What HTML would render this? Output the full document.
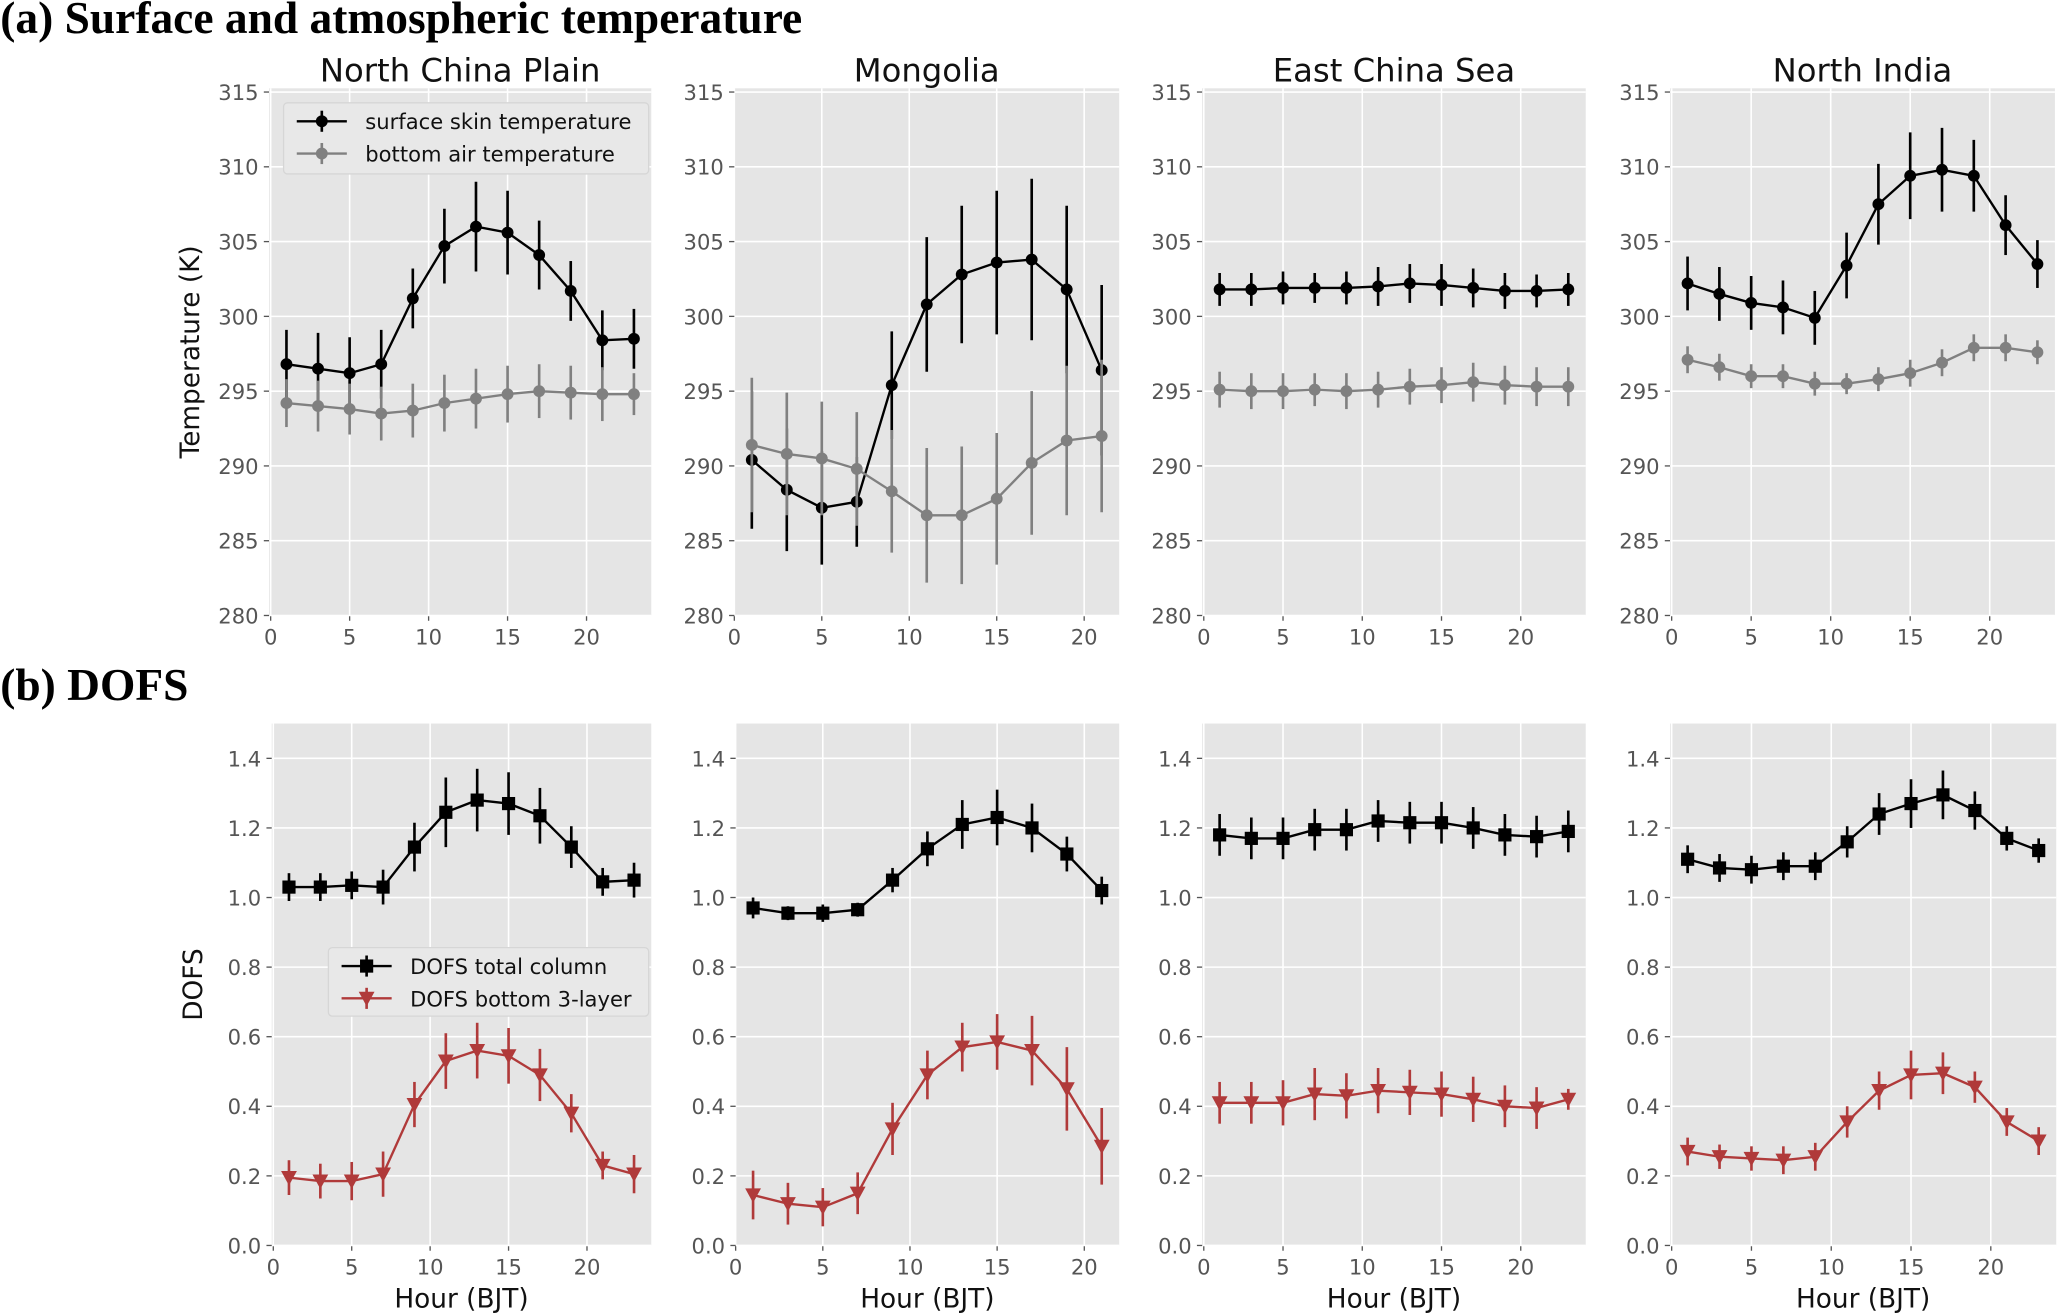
<!DOCTYPE html>
<html><head><meta charset="utf-8">
<style>
html,body{margin:0;padding:0;background:#fff;}
svg{display:block;}
text{font-family:"DejaVu Sans","Liberation Sans",sans-serif;}
</style></head>
<body>
<svg id="fig" width="2067" height="1314" viewBox="0 0 1568 997" xmlns="http://www.w3.org/2000/svg">
<text x="0" y="25" style="font-family:'Liberation Serif',serif;font-weight:bold;font-size:34.5px;">(a) Surface and atmospheric temperature</text>
<text x="0" y="531" style="font-family:'Liberation Serif',serif;font-weight:bold;font-size:34.5px;">(b) DOFS</text>
</svg>
<script>
const regions = ["North China Plain","Mongolia","East China Sea","North India"];
const hoursFull = [1,3,5,7,9,11,13,15,17,19,21,23];
const hoursMon = [1,3,5,7,9,11,13,15,17,19,21];
const tempTicks = [280,285,290,295,300,305,310,315];
const dofsTicks = [0.0,0.2,0.4,0.6,0.8,1.0,1.2,1.4];
const dofsTickLabels = ["0.0","0.2","0.4","0.6","0.8","1.0","1.2","1.4"];
const hourTicks = [0,5,10,15,20];

const skinNCP = [296.8,296.5,296.2,296.8,301.2,304.7,306.0,305.6,304.1,301.7,298.4,298.5];
const skinNCPErr = [2.3,2.4,2.4,2.3,2.0,2.5,3.0,2.8,2.3,2.0,2.0,2.0];
const airNCP = [294.2,294.0,293.8,293.5,293.7,294.2,294.5,294.8,295.0,294.9,294.8,294.8];
const airNCPErr = [1.6,1.7,1.7,1.8,1.8,1.9,2.0,1.9,1.8,1.8,1.8,1.4];
const skinMON = [290.4,288.4,287.2,287.6,295.4,300.8,302.8,303.6,303.8,301.8,296.4];
const skinMONErr = [4.6,4.1,3.8,3.0,3.6,4.5,4.6,4.8,5.4,5.6,5.7];
const airMON = [291.4,290.8,290.5,289.8,288.3,286.7,286.7,287.8,290.2,291.7,292.0];
const airMONErr = [4.5,4.1,3.8,3.8,4.1,4.5,4.6,4.4,4.8,5.0,5.1];
const skinECS = [301.8,301.8,301.9,301.9,301.9,302.0,302.2,302.1,301.9,301.7,301.7,301.8];
const skinECSErr = [1.1,1.1,1.1,1.0,1.1,1.3,1.3,1.4,1.3,1.2,1.1,1.1];
const airECS = [295.1,295.0,295.0,295.1,295.0,295.1,295.3,295.4,295.6,295.4,295.3,295.3];
const airECSErr = [1.2,1.2,1.2,1.1,1.2,1.2,1.2,1.2,1.3,1.3,1.3,1.3];
const skinNI = [302.2,301.5,300.9,300.6,299.9,303.4,307.5,309.4,309.8,309.4,306.1,303.5];
const skinNIErr = [1.8,1.8,1.8,1.8,1.8,2.2,2.7,2.9,2.8,2.4,2.0,1.6];
const airNI = [297.1,296.6,296.0,296.0,295.5,295.5,295.8,296.2,296.9,297.9,297.9,297.6];
const airNIErr = [0.9,0.9,0.8,0.8,0.8,0.7,0.8,0.9,0.9,0.9,0.9,0.8];

const totNCP = [1.03,1.03,1.035,1.03,1.145,1.245,1.28,1.27,1.235,1.145,1.045,1.05];
const totNCPErr = [0.04,0.04,0.04,0.05,0.07,0.1,0.09,0.09,0.08,0.06,0.04,0.05];
const botNCP = [0.195,0.185,0.185,0.205,0.405,0.53,0.56,0.545,0.49,0.38,0.23,0.205];
const botNCPErr = [0.05,0.05,0.055,0.065,0.065,0.08,0.08,0.08,0.075,0.055,0.04,0.055];
const totMON = [0.97,0.955,0.955,0.965,1.05,1.14,1.21,1.23,1.2,1.125,1.02];
const totMONErr = [0.03,0.02,0.025,0.02,0.035,0.05,0.07,0.08,0.07,0.05,0.04];
const botMON = [0.145,0.12,0.11,0.15,0.335,0.49,0.57,0.585,0.56,0.45,0.285];
const botMONErr = [0.07,0.06,0.055,0.06,0.075,0.07,0.07,0.08,0.1,0.12,0.11];
const totECS = [1.18,1.17,1.17,1.195,1.195,1.22,1.215,1.215,1.2,1.18,1.175,1.19];
const totECSErr = [0.06,0.06,0.06,0.06,0.06,0.06,0.06,0.06,0.06,0.06,0.06,0.06];
const botECS = [0.41,0.41,0.41,0.435,0.43,0.445,0.44,0.435,0.42,0.40,0.395,0.42];
const botECSErr = [0.06,0.06,0.065,0.075,0.065,0.065,0.065,0.065,0.065,0.06,0.06,0.03];
const totNI = [1.11,1.085,1.08,1.09,1.09,1.16,1.24,1.27,1.295,1.25,1.17,1.135];
const totNIErr = [0.04,0.04,0.04,0.04,0.04,0.045,0.06,0.07,0.07,0.055,0.035,0.035];
const botNI = [0.27,0.255,0.25,0.245,0.255,0.355,0.445,0.49,0.495,0.455,0.355,0.3];
const botNIErr = [0.04,0.035,0.035,0.04,0.04,0.045,0.055,0.07,0.06,0.045,0.04,0.04];

const NS="http://www.w3.org/2000/svg";
const svg=document.getElementById('fig');
function mk(tag,attrs,parent){const e=document.createElementNS(NS,tag);for(const k in attrs)e.setAttribute(k,attrs[k]);(parent||svg).appendChild(e);return e;}

function axes(box,xlim,ylim,yt,ytl,title,ylabel,xlabel,prefix){
  const sx=v=>box.x0+(v-xlim[0])/(xlim[1]-xlim[0])*(box.x1-box.x0);
  const sy=v=>box.y1-(v-ylim[0])/(ylim[1]-ylim[0])*(box.y1-box.y0);
  const g=mk('g',{});
  
  
  const bg=mk('rect',{x:box.x0,y:box.y0,width:box.x1-box.x0,height:box.y1-box.y0,fill:'#e5e5e5'},g);
  
  
  hourTicks.forEach(t=>{const x=sx(t);
    const gl=mk('line',{x1:x,x2:x,y1:box.y0,y2:box.y1,stroke:'#fff','stroke-width':1.2},g);
    
    
    mk('line',{x1:x,x2:x,y1:box.y1,y2:box.y1+4,stroke:'#555','stroke-width':1},g);
    const tl=mk('text',{x:x,y:box.y1+22,'text-anchor':'middle','font-size':16,fill:'#555'},g);tl.textContent=t;
    
    
  });
  yt.forEach((t,i)=>{const y=sy(t);
    const gl=mk('line',{x1:box.x0,x2:box.x1,y1:y,y2:y,stroke:'#fff','stroke-width':1.2},g);
    
    
    mk('line',{x1:box.x0-4,x2:box.x0,y1:y,y2:y,stroke:'#555','stroke-width':1},g);
    const tl=mk('text',{x:box.x0-8,y:y+6,'text-anchor':'end','font-size':16,fill:'#555'},g);tl.textContent=ytl[i];
    
    
  });
  if(title){const t=mk('text',{x:(box.x0+box.x1)/2,y:box.y0-5,'text-anchor':'middle','font-size':24.5,fill:'#111'},g);t.textContent=title;
    
    }
  if(ylabel){const cy=(box.y0+box.y1)/2;const t=mk('text',{x:0,y:0,transform:`translate(${box.x0-53},${cy}) rotate(-90)`,'text-anchor':'middle','font-size':20,fill:'#111'},g);t.textContent=ylabel;
    
    }
  if(xlabel){const t=mk('text',{x:(box.x0+box.x1)/2,y:box.y1+47,'text-anchor':'middle','font-size':20,fill:'#111'},g);t.textContent=xlabel;
    
    }
  return {sx,sy,g};
}
function marker(g,type,x,y,color){
  if(type==='o') return mk('circle',{cx:x,cy:y,r:4.5,fill:color},g);
  if(type==='s') return mk('rect',{x:x-5,y:y-5,width:10,height:10,fill:color},g);
  if(type==='v') return mk('path',{d:`M${x-6},${y-5}L${x+6},${y-5}L${x},${y+6}Z`,fill:color},g);
}
function series(ax,xs,ys,es,color,type,name){
  const g=mk('g',{},ax.g);
  
  
  xs.forEach((h,i)=>{
    const eb=mk('line',{x1:ax.sx(h),x2:ax.sx(h),y1:ax.sy(ys[i]-es[i]),y2:ax.sy(ys[i]+es[i]),stroke:color,'stroke-width':2},g);
    
    
  });
  const pl=mk('polyline',{points:xs.map((h,i)=>ax.sx(h)+','+ax.sy(ys[i])).join(' '),fill:'none',stroke:color,'stroke-width':1.8},g);
  
  
  xs.forEach((h,i)=>{const m=marker(g,type,ax.sx(h),ax.sy(ys[i]),color);
    
    });
}
function legend(ax,box,items){
  const g=mk('g',{},ax.g);
  
  
  mk('rect',{x:box.x,y:box.y,width:box.w,height:box.h,rx:3,fill:'#e8e8e8',stroke:'#d6d6d6','stroke-width':1},g);
  items.forEach((it,i)=>{const y=box.y+14+i*24.5;const x=box.x+10;
    const e=mk('g',{},g);
    
    
    mk('line',{x1:x,x2:x+38,y1:y,y2:y,stroke:it.c,'stroke-width':1.8},e);
    mk('line',{x1:x+19,x2:x+19,y1:y-8,y2:y+8,stroke:it.c,'stroke-width':2},e);
    marker(e,it.m,x+19,y,it.c);
    const t=mk('text',{x:x+52,y:y+6,'font-size':16,fill:'#111'},e);t.textContent=it.t;
  });
}
const grey='#808080', red='#b03a3a';
const topBoxes=[{x0:204,x1:494},{x0:557,x1:849},{x0:912,x1:1203},{x0:1267,x1:1559}];
const botBoxes=[{x0:206,x1:494},{x0:558,x1:849},{x0:912,x1:1203},{x0:1267,x1:1560}];
const skin=[skinNCP,skinMON,skinECS,skinNI], skinE=[skinNCPErr,skinMONErr,skinECSErr,skinNIErr];
const air=[airNCP,airMON,airECS,airNI], airE=[airNCPErr,airMONErr,airECSErr,airNIErr];
const tot=[totNCP,totMON,totECS,totNI], totE=[totNCPErr,totMONErr,totECSErr,totNIErr];
const bot=[botNCP,botMON,botECS,botNI], botE=[botNCPErr,botMONErr,botECSErr,botNIErr];
const keys=['ncp','mongolia','ecs','north-india'];
for(let p=0;p<4;p++){
  const hrs=p===1?hoursMon:hoursFull;
  const xl=p===1?[0,22]:[-0.1,24.1];
  const tb=Object.assign({y0:67,y1:467},topBoxes[p]);
  const a=axes(tb,xl,[280,315.25],tempTicks,tempTicks.map(String),regions[p],p===0?'Temperature (K)':'',null,'temp-'+keys[p]);
  series(a,hrs,skin[p],skinE[p],'#000','o','skin-temperature-'+keys[p]);
  series(a,hrs,air[p],airE[p],grey,'o','air-temperature-'+keys[p]);
  if(p===0) legend(a,{x:215,y:78,w:277,h:54},[{t:'surface skin temperature',c:'#000',m:'o'},{t:'bottom air temperature',c:grey,m:'o'}]);
  const bb=Object.assign({y0:549,y1:945},botBoxes[p]);
  const b=axes(bb,xl,[0,1.5],dofsTicks,dofsTickLabels,null,p===0?'DOFS':'','Hour (BJT)','dofs-'+keys[p]);
  series(b,hrs,tot[p],totE[p],'#000','s','dofs-total-'+keys[p]);
  series(b,hrs,bot[p],botE[p],red,'v','dofs-bottom-'+keys[p]);
  if(p===0) legend(b,{x:249,y:719,w:243,h:52},[{t:'DOFS total column',c:'#000',m:'s'},{t:'DOFS bottom 3-layer',c:red,m:'v'}]);
}
</script>
</body></html>
